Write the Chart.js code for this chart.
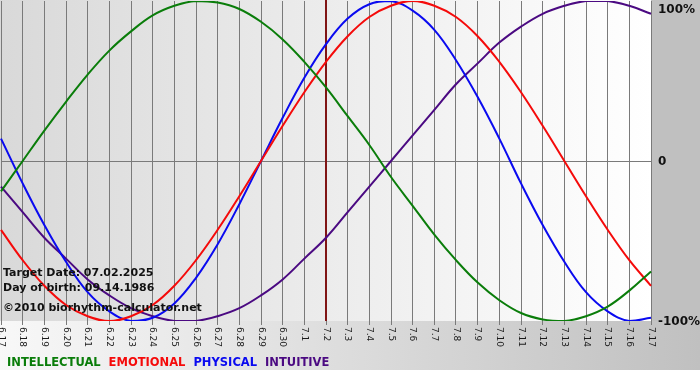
<!DOCTYPE html>
<html>
<head>
<meta charset="utf-8">
<script src="https://cdn.jsdelivr.net/npm/chart.js@4/dist/chart.umd.min.js"></script>
<style>
html,body{margin:0;padding:0;background:#fff;}
#wrap{width:700px;height:380px;position:relative;}
</style>
</head>
<body>
<div id="wrap"><canvas id="c" width="700" height="380"></canvas></div>
<script>
// Categories (dates)
const dates = ['6.17','6.18','6.19','6.20','6.21','6.22','6.23','6.24','6.25','6.26','6.27','6.28','6.29','6.30',
  '7.1','7.2','7.3','7.4','7.5','7.6','7.7','7.8','7.9','7.10','7.11','7.12','7.13','7.14','7.15','7.16','7.17'];

// Series values (percent)
const intellectual = [-19,0,19,37,54,69,81,91,97,100,99,95,87,76,62,46,28,10,-10,-28,-46,-62,-76,-87,-95,-99,-100,-97,-91,-81,-69];
const emotional = [-43,-62,-78,-90,-97,-100,-97,-90,-78,-62,-43,-22,0,22,43,62,78,90,97,100,97,90,78,62,43,22,0,-22,-43,-62,-78];
const physical = [14,-14,-40,-63,-82,-94,-100,-98,-89,-73,-52,-27,0,27,52,73,89,98,100,94,82,63,40,14,-14,-40,-63,-82,-94,-100,-98];
const intuitive = [-16,-32,-48,-61,-74,-84,-92,-97,-100,-100,-97,-92,-84,-74,-61,-48,-32,-16,0,16,32,48,61,74,84,92,97,100,100,97,92];

// Y tick labels
const yTickValues = [100, 0, -100];
const yTickLabels = ['100%', '0', '-100%'];

// Target date marker & info text
const targetDate = '7.2';
const infoLines = ['Target Date: 07.02.2025', 'Day of birth: 09.14.1986', '\u00A92010 biorhythm-calculator.net'];

const seriesNames = ['INTELLECTUAL', 'EMOTIONAL', 'PHYSICAL', 'INTUITIVE'];
const seriesColors = ['#0a7d0a', '#f50a0a', '#0a0af0', '#4b0a82'];

const bgPlugin = {
  id: 'bg',
  beforeDraw(chart) {
    const {ctx, chartArea: a, width, height} = chart;
    ctx.save();
    ctx.fillStyle = '#ffffff';
    ctx.fillRect(0, 0, width, height);
    let g = ctx.createLinearGradient(a.left, 0, a.right, 0);
    g.addColorStop(0, '#d9d9d9');
    g.addColorStop(1, '#ffffff');
    ctx.fillStyle = g;
    ctx.fillRect(0, 0, a.right, a.bottom);
    ctx.fillStyle = '#c0c0c0';
    ctx.fillRect(a.right, 0, width - a.right, a.bottom);
    g = ctx.createLinearGradient(0, 0, width, 0);
    g.addColorStop(0, '#f8f8f8');
    g.addColorStop(1, '#c0c0c0');
    ctx.fillStyle = g;
    ctx.fillRect(0, a.bottom, width, 49);
    ctx.restore();
  },
  afterDraw(chart) {
    const {ctx, chartArea: a} = chart;
    const xs = chart.scales.x, ys = chart.scales.y;
    ctx.save();
    ctx.fillStyle = '#1a1a1a';
    ctx.font = '9px "DejaVu Sans"';
    ctx.textAlign = 'left';
    ctx.textBaseline = 'middle';
    dates.forEach((d, i) => {
      const x = xs.getPixelForValue(i);
      ctx.save();
      ctx.translate(x, a.bottom + 6);
      ctx.rotate(Math.PI / 2);
      ctx.fillText(d, 0, 0);
      ctx.restore();
    });
    ctx.fillStyle = '#111';
    ctx.font = 'bold 12px "DejaVu Sans"';
    ctx.textBaseline = 'middle';
    yTickValues.forEach((v, i) => {
      let y = ys.getPixelForValue(v);
      y = Math.max(y, a.top + 8);
      ctx.fillText(yTickLabels[i], a.right + 7, y + 1);
    });
    ctx.font = 'bold 11px "DejaVu Sans"';
    ctx.textBaseline = 'alphabetic';
    ctx.fillStyle = '#111';
    const baseY = [276, 291, 311];
    infoLines.forEach((t, i) => ctx.fillText(t, a.left + 2, baseY[i]));
    ctx.font = 'bold 11.5px "DejaVu Sans"';
    let lx = 7;
    chart.data.datasets.forEach(ds => {
      ctx.fillStyle = ds.borderColor;
      ctx.fillText(ds.label, lx, 366);
      lx += ctx.measureText(ds.label).width + 8;
    });
    ctx.restore();
  },
  beforeDatasetsDraw(chart) {
    const {ctx, chartArea: a} = chart;
    const x = chart.scales.x.getPixelForValue(dates.indexOf(targetDate));
    ctx.save();
    ctx.strokeStyle = '#801515';
    ctx.lineWidth = 2;
    ctx.beginPath();
    ctx.moveTo(x, a.top - 1);
    ctx.lineTo(x, a.bottom);
    ctx.stroke();
    ctx.restore();
  }
};

const mk = (label, data, color) => ({
  label, data, borderColor: color, backgroundColor: color,
  borderWidth: 2, pointRadius: 0, tension: 0.4, fill: false
});

new Chart(document.getElementById('c'), {
  type: 'line',
  data: {
    labels: dates,
    datasets: [
      mk(seriesNames[0], intellectual, seriesColors[0]),
      mk(seriesNames[1], emotional, seriesColors[1]),
      mk(seriesNames[2], physical, seriesColors[2]),
      mk(seriesNames[3], intuitive, seriesColors[3])
    ]
  },
  options: {
    responsive: false,
    animation: false,
    devicePixelRatio: 1,
    layout: { autoPadding: false, padding: { left: 1, right: 49, top: 1, bottom: 55 } },
    plugins: { legend: { display: false }, tooltip: { enabled: false } },
    scales: {
      x: {
        offset: false,
        grid: { color: '#7a7a7a', lineWidth: 1, drawTicks: true, tickLength: 4 },
        border: { display: false },
        ticks: { display: false, autoSkip: false }
      },
      y: {
        position: 'right',
        min: -100, max: 100,
        grid: { color: c => c.tick && c.tick.value === 0 ? '#7a7a7a' : 'rgba(0,0,0,0)', drawTicks: false },
        border: { display: false },
        ticks: { display: false, stepSize: 100 }
      }
    }
  },
  plugins: [bgPlugin]
});
</script>
</body>
</html>
